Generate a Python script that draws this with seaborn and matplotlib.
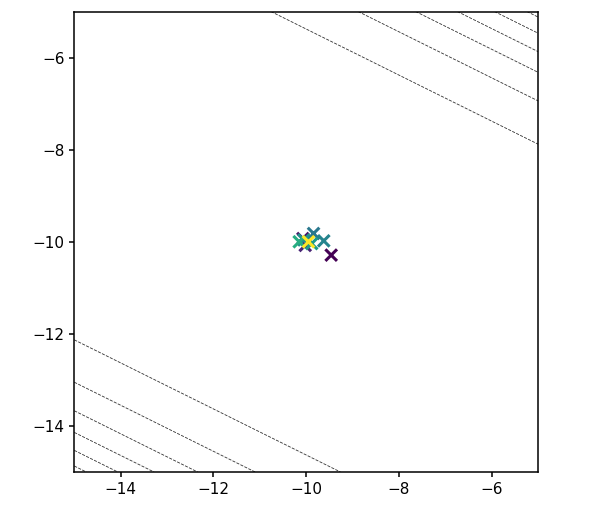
import matplotlib
matplotlib.use("Agg")
import matplotlib.pyplot as plt
import seaborn as sns
import pandas as pd
import numpy as np

# sampled points (x, y) and their colour value
point_x = [-10.07, -10.02, -9.46, -9.84, -9.62, -9.88, -10.15, -10.05, -9.95]
point_y = [-9.93, -10.08, -10.29, -9.82, -9.98, -10.04, -10.00, -9.96, -10.00]
point_c = [0.05, 0.10, 0.00, 0.40, 0.45, 0.55, 0.62, 0.50, 1.00]

# contour lines: parallel bands around the centre
center = (-10.0, -10.0)
band_slope = 0.5
band_levels = [-7.37, -7.03, -6.64, -6.17, -5.55, -4.63,
               4.62, 5.56, 6.18, 6.63, 7.03, 7.38]

x_ticks = [-14, -12, -10, -8, -6]
y_ticks = [-14, -12, -10, -8, -6]

plt.rcParams["font.size"] = 11

fig = plt.figure(figsize=(5.98, 5.14), dpi=100)
ax = fig.add_axes([0.1242, 0.0817, 0.7755, 0.8959])

gx, gy = np.meshgrid(np.linspace(-15, -5, 300), np.linspace(-15, -5, 300))
band = (gy - center[1]) + band_slope * (gx - center[0])
ax.contour(gx, gy, band, levels=band_levels, colors="#333333",
           linestyles="dashed", linewidths=0.6)

df = pd.DataFrame({"x": point_x, "y": point_y, "c": point_c}).sort_values("c")
sns.scatterplot(data=df, x="x", y="y", hue="c", palette="viridis",
                hue_norm=(0, 1), marker="x", s=70, linewidth=2.2,
                legend=False, ax=ax, zorder=3)

ax.set_xlim(-15, -5)
ax.set_ylim(-15, -5)
ax.set_xticks(x_ticks)
ax.set_yticks(y_ticks)
ax.set_xlabel("")
ax.set_ylabel("")
for sp in ax.spines.values():
    sp.set_linewidth(1.1)
ax.tick_params(width=1.1)

fig.savefig("out.png", dpi=100)
